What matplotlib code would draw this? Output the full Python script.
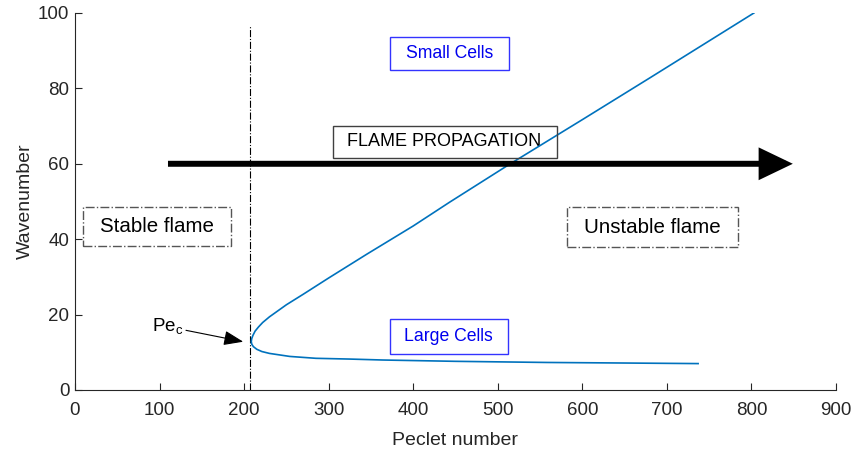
import matplotlib
matplotlib.use("Agg")
import matplotlib.pyplot as plt
from matplotlib.patches import Rectangle

plt.rcParams['font.family'] = ['Liberation Sans', 'DejaVu Sans']

# neutral stability curve (lower branch end -> nose -> upper branch end)
peclet = [737, 650, 558, 450, 364, 325, 285, 254, 230, 221, 215, 211, 209.2,
          208.5,
          209, 210.5, 213, 217, 222, 230, 240, 250, 270, 300, 345, 400, 443, 512, 600, 680, 803]
wavenumber = [7.0, 7.15, 7.3, 7.6, 7.95, 8.2, 8.4, 8.9, 9.7, 10.2, 10.8, 11.5, 12.1,
              12.8,
              13.6, 14.5, 15.6, 16.7, 17.9, 19.4, 21.0, 22.6, 25.4, 29.7, 36.0, 43.5, 49.8, 59.6, 71.7, 82.8, 100.0]

pe_crit = 207
pe_crit_top = 96.5
xticks = [0, 100, 200, 300, 400, 500, 600, 700, 800, 900]
yticks = [0, 20, 40, 60, 80, 100]

grey = '#262626'
blue_line = '#0072BD'

fig = plt.figure(figsize=(8.53, 4.51), dpi=100)
ax = fig.add_axes([0.0879, 0.1353, 0.980 - 0.0879, 0.9712 - 0.1353])

ax.plot([pe_crit, pe_crit], [0, pe_crit_top], color='black', ls='-.', lw=0.8, zorder=2)
ax.plot(peclet, wavenumber, color=blue_line, lw=1.2, zorder=3)

# flame propagation arrow
ax.annotate('', xy=(849, 60), xytext=(110, 60),
            arrowprops=dict(arrowstyle='-|>,head_length=1.25,head_width=0.6',
                            lw=4.3, color='black', mutation_scale=14,
                            shrinkA=0, shrinkB=0, joinstyle='miter', capstyle='butt'),
            zorder=5)

# boxes
ax.add_patch(Rectangle((304.7, 61.6), 569.6 - 304.7, 70.1 - 61.6, fill=False,
                       ec='#404040', lw=1.0, zorder=4))
ax.text(437, 66.0, 'FLAME PROPAGATION', ha='center', va='center', fontsize=13, color='black', zorder=2)

ax.add_patch(Rectangle((372.5, 84.9), 513.2 - 372.5, 93.6 - 84.9, fill=False,
                       ec='#3333ff', lw=1.0, zorder=4))
ax.text(443, 89.3, 'Small Cells', ha='center', va='center', fontsize=12.7, color='#0000ee')

ax.add_patch(Rectangle((372.5, 9.6), 511.6 - 372.5, 18.75 - 9.6, fill=False,
                       ec='#3333ff', lw=1.0, zorder=4))
ax.text(442, 14.2, 'Large Cells', ha='center', va='center', fontsize=12.7, color='#0000ee')

ax.add_patch(Rectangle((9.8, 38.2), 184.5 - 9.8, 48.6 - 38.2, fill=False,
                       ec='#555555', lw=1.0, ls='-.', zorder=4))
ax.text(97, 43.4, 'Stable flame', ha='center', va='center', fontsize=14.8, color='black')

ax.add_patch(Rectangle((581.4, 38.0), 784.3 - 581.4, 48.5 - 38.0, fill=False,
                       ec='#555555', lw=1.0, ls='-.', zorder=4))
ax.text(683, 43.2, 'Unstable flame', ha='center', va='center', fontsize=14.8, color='black')

# critical Peclet number
ax.annotate('Pe$_\\mathregular{c}$', xy=(199, 12.8), xytext=(128, 16.8),
            ha='right', va='center', fontsize=13.5,
            arrowprops=dict(arrowstyle='-|>,head_length=1.2,head_width=0.45',
                            lw=0.8, color='black', mutation_scale=10,
                            shrinkA=0, shrinkB=0))

ax.set_xlim(0, 900)
ax.set_ylim(0, 100)
ax.set_xticks(xticks)
ax.set_yticks(yticks)
ax.spines['top'].set_visible(False)
ax.spines['right'].set_visible(False)
for s in ('left', 'bottom'):
    ax.spines[s].set_color(grey)
    ax.spines[s].set_linewidth(0.8)
ax.tick_params(direction='in', length=5, width=0.8, colors=grey, labelsize=13.5, pad=4)
ax.tick_params(axis='x', pad=9)
ax.set_xlabel('Peclet number', fontsize=14, color=grey, labelpad=9)
ax.set_ylabel('Wavenumber', fontsize=14, color=grey, labelpad=3)

fig.savefig('out.png', dpi=100)
